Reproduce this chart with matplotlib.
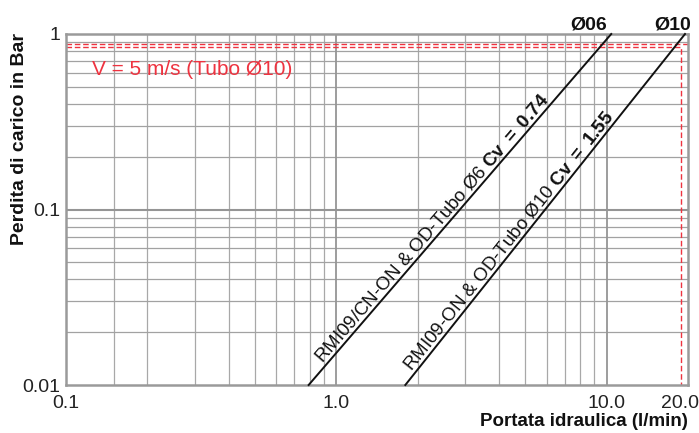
import matplotlib
matplotlib.use('Agg')
import matplotlib.pyplot as plt
from matplotlib import font_manager
import matplotlib.transforms as mtransforms
import numpy as np

names = {f.name for f in font_manager.fontManager.ttflist}
FONT = 'Liberation Sans Narrow' if 'Liberation Sans Narrow' in names else 'Liberation Sans'
plt.rcParams['font.family'] = [FONT, 'DejaVu Sans']
plt.rcParams['mathtext.fontset'] = 'custom'
plt.rcParams['mathtext.rm'] = FONT
plt.rcParams['mathtext.bf'] = FONT + ':bold'

# ---- data ----
x_ticks = [0.1, 1.0, 10.0, 20.0]
x_tick_labels = ['0.1', '1.0', '10.0', '20.0']
y_ticks = [0.01, 0.1, 1.0]
y_tick_labels = ['0.01', '0.1', '1']
x_minor = [0.15, 0.2, 0.3, 0.4, 0.5, 0.6, 0.7, 0.8, 0.9,
           2, 3, 4, 5, 6, 7, 8, 9]
y_minor = [0.02, 0.03, 0.04, 0.05, 0.06, 0.07, 0.08, 0.09,
           0.2, 0.3, 0.4, 0.5, 0.6, 0.7, 0.8, 0.9]

dp_line = [0.01, 1.0]          # pressure drop (bar)
q_06 = [0.79, 10.4]            # flow (l/min) for tube Ø6, Cv 0.74
q_10 = [1.80, 19.5]            # flow (l/min) for tube Ø10, Cv 1.55

v5_dp_upper = 0.88
v5_dp_lower = 0.84
v5_q = 18.9

label_06 = r'RMI09/CN-ON & OD-Tubo Ø6 $\mathbf{Cv}$ $\mathbf{=}$ $\mathbf{0.74}$'
label_10 = r'RMI09-ON & OD-Tubo Ø10 $\mathbf{Cv}$ $\mathbf{=}$ $\mathbf{1.55}$'
label_start_dp = [0.0128, 0.0116]

# ---- figure ----
fig = plt.figure(figsize=(6.99, 4.33), dpi=100)
ax = fig.add_axes([66/699, 1-385/433, (688-66)/699, (385-34)/433])
ax.set_xscale('log')
ax.set_yscale('log')
ax.set_xlim(0.1, 20)
ax.set_ylim(0.01, 1)

ax.set_xticks(x_ticks)
ax.set_xticklabels(x_tick_labels)
ax.set_yticks(y_ticks)
ax.set_yticklabels(y_tick_labels)
ax.xaxis.set_minor_locator(matplotlib.ticker.NullLocator())
ax.yaxis.set_minor_locator(matplotlib.ticker.NullLocator())
ax.tick_params(axis='both', length=0, labelsize=14, colors='#222222')
ax.tick_params(axis='x', pad=7)
ax.tick_params(axis='y', pad=4)
# keep the last x label inside the figure
last = ax.get_xticklabels()[-1]
last.set_transform(last.get_transform() +
                   mtransforms.ScaledTranslation(-8/100, 0, fig.dpi_scale_trans))

for v in x_minor:
    ax.axvline(v, color='#a8a8a8', lw=0.9, zorder=1)
for v in y_minor:
    ax.axhline(v, color='#a2a2a2', lw=0.9, zorder=1)
for v in [1.0, 10.0]:
    ax.axvline(v, color='#959595', lw=1.3, zorder=1)
ax.axhline(0.1, color='#959595', lw=1.5, zorder=1)

for s in ax.spines.values():
    s.set_color('#9a9a9a')
    s.set_linewidth(1.8)

# red dashed V = 5 m/s markers
red = '#ee3340'
ax.plot([0.1, 20], [v5_dp_upper, v5_dp_upper], color=red, lw=1.0, ls=(0, (4, 2)), zorder=2)
ax.plot([0.1, v5_q, v5_q], [v5_dp_lower, v5_dp_lower, 0.01], color=red, lw=1.0,
        ls=(0, (4, 2)), zorder=2)
ax.text(0.125, 0.583, 'V = 5 m/s (Tubo Ø10)', color=red, fontsize=15,
        ha='left', va='baseline')

# lines
for q, lab, dps in [(q_06, label_06, label_start_dp[0]), (q_10, label_10, label_start_dp[1])]:
    ax.plot(q, dp_line, color='#111111', lw=1.4, zorder=3, clip_on=False)
    p1 = ax.transData.transform((q[0], dp_line[0]))
    p2 = ax.transData.transform((q[1], dp_line[1]))
    ang = np.arctan2(p2[1]-p1[1], p2[0]-p1[0])
    t = (np.log10(dps) - np.log10(dp_line[0])) / (np.log10(dp_line[1]) - np.log10(dp_line[0]))
    qx = 10**(np.log10(q[0]) + t*(np.log10(q[1]) - np.log10(q[0])))
    off = 4
    ax.annotate(lab, xy=(qx, dps), xytext=(-np.sin(ang)*off, np.cos(ang)*off),
                textcoords='offset pixels', rotation=np.degrees(ang),
                rotation_mode='anchor', ha='left', va='baseline',
                fontsize=13.5, color='#111111')

ax.annotate('Ø06', xy=(q_06[1], 1.0), xytext=(-4, 5), textcoords='offset pixels',
            ha='right', va='baseline', fontsize=14, fontweight='bold', color='#111111',
            annotation_clip=False)
ax.annotate('Ø10', xy=(q_10[1], 1.0), xytext=(6, 5), textcoords='offset pixels',
            ha='right', va='baseline', fontsize=14, fontweight='bold', color='#111111',
            annotation_clip=False)

fig.text(20/699, 1-33/433, 'Perdita di carico in Bar', rotation=90, ha='center',
         va='top', fontsize=14, fontweight='bold', color='#111111')
fig.text(688/699, 1-422/433, 'Portata idraulica (l/min)', ha='right', va='center',
         fontsize=13.5, fontweight='bold', color='#111111')

fig.savefig('out.png', dpi=100)
